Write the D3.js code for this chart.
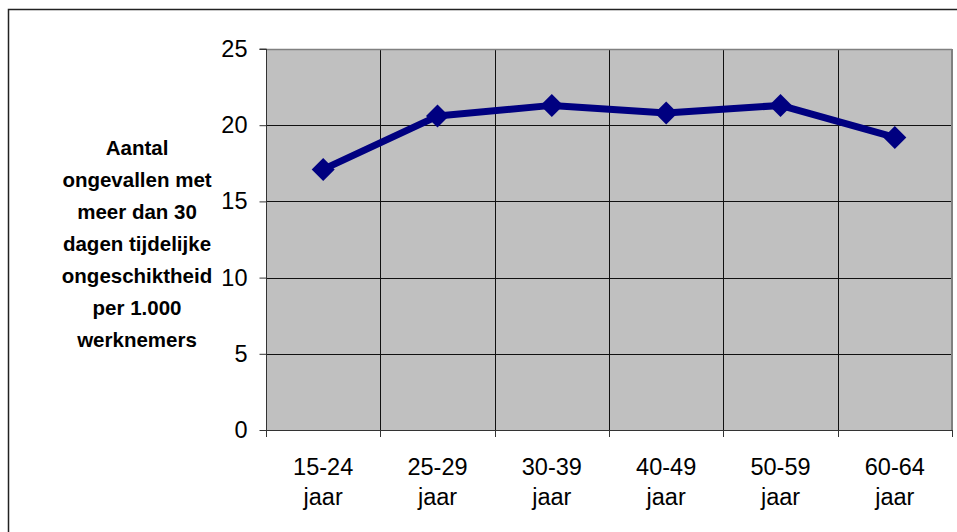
<!DOCTYPE html>
<html><head><meta charset="utf-8">
<script src="https://cdn.jsdelivr.net/npm/d3@7"></script>
<style>body{margin:0;background:#fff}svg{display:block}</style>
</head><body><svg id="c" width="957" height="532"></svg>
<script>
const categories = ["15-24 jaar","25-29 jaar","30-39 jaar","40-49 jaar","50-59 jaar","60-64 jaar"];
const values = [17.1, 20.6, 21.3, 20.8, 21.3, 19.2];
const yTicks = [0,5,10,15,20,25];
const yTitle = ["Aantal","ongevallen met","meer dan 30","dagen tijdelijke","ongeschiktheid","per 1.000","werknemers"];

const FONT = "Arial, 'Liberation Sans', sans-serif";
const svg = d3.select("#c");
const L=266, R=952, T=49, B=430;
svg.append("rect").attr("x",8.5).attr("y",9.5).attr("width",960).attr("height",540)
  .attr("fill","none").attr("stroke","#222").attr("stroke-width",1.5);

const x = d3.scaleBand().domain(categories).range([L,R]).padding(0);
const y = d3.scaleLinear().domain([0,25]).range([B,T]);

svg.append("rect").attr("x",L).attr("y",T).attr("width",R-L).attr("height",B-T).attr("fill","#c0c0c0");
// grid
svg.append("g").selectAll("line").data(yTicks.filter(d=>d>0&&d<25)).join("line")
  .attr("x1",L).attr("x2",R).attr("y1",d=>Math.round(y(d))+0.5).attr("y2",d=>Math.round(y(d))+0.5)
  .attr("stroke","#111").attr("stroke-width",1);
svg.append("g").selectAll("line").data(categories.slice(1)).join("line")
  .attr("x1",d=>Math.round(x(d))+0.5).attr("x2",d=>Math.round(x(d))+0.5).attr("y1",T).attr("y2",B)
  .attr("stroke","#111").attr("stroke-width",1);
// frame
svg.append("line").attr("x1",L).attr("x2",R).attr("y1",T+0.5).attr("y2",T+0.5).attr("stroke","#808080").attr("stroke-width",1.5);
svg.append("line").attr("x1",R).attr("x2",R).attr("y1",T).attr("y2",B).attr("stroke","#808080").attr("stroke-width",2);

// y axis
const ya = d3.axisLeft(y).tickValues(yTicks).tickSize(7).tickPadding(12).tickFormat(d3.format("d"));
const gy = svg.append("g").attr("transform",`translate(${L+0.5},0)`).call(ya);
gy.select(".domain").attr("stroke","#333").attr("d",`M-7,${T}H0V${B}`);
gy.selectAll(".tick line").attr("stroke","#333");
gy.selectAll("text").attr("font-family",FONT).attr("font-size",23.5).attr("fill","#000");

// x axis
const xa = d3.axisBottom(x).tickSize(0).tickFormat("");
const gx = svg.append("g").attr("transform",`translate(0,${B+0.5})`).call(xa);
gx.select(".domain").attr("stroke","#333").attr("d",`M${L},0H${R}`);
svg.append("g").selectAll("line").data(categories.map((c,i)=>i===0?L:x(c)).concat([R])).join("line")
  .attr("x1",d=>Math.round(d)+0.5).attr("x2",d=>Math.round(d)+0.5).attr("y1",B).attr("y2",B+7).attr("stroke","#333");
const xl = svg.append("g").selectAll("text").data(categories).join("text")
  .attr("x",d=>x(d)+x.bandwidth()/2).attr("y",475)
  .attr("text-anchor","middle").attr("font-family",FONT).attr("font-size",23.5);
xl.each(function(d){
  const parts=d.split(" ");
  d3.select(this).selectAll("tspan").data(parts).join("tspan")
    .attr("x",x(d)+x.bandwidth()/2).attr("dy",(p,i)=>i?30:0).text(p=>p);
});

// y title
svg.append("text").attr("font-family",FONT).attr("font-size",20.5).attr("font-weight","bold")
  .attr("text-anchor","middle").selectAll("tspan").data(yTitle).join("tspan")
  .attr("x",137).attr("y",(d,i)=>155+i*32).text(d=>d);

// line
const cx = d=>x(d)+x.bandwidth()/2;
svg.append("path").datum(values).attr("fill","none").attr("stroke","#000080").attr("stroke-width",7)
  .attr("stroke-linejoin","round")
  .attr("d",d3.line().x((d,i)=>cx(categories[i])).y(d=>y(d)));
svg.append("g").selectAll("path").data(values).join("path")
  .attr("transform",(d,i)=>`translate(${cx(categories[i])},${y(d)})`)
  .attr("d","M0,-11.5L11.5,0L0,11.5L-11.5,0Z").attr("fill","#000080");
</script></body></html>
